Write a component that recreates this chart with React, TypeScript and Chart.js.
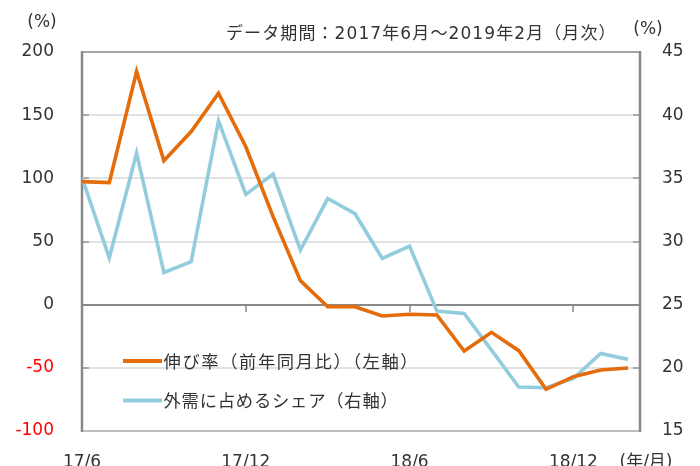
import React, { useEffect, useRef } from 'react';
import { Chart, registerables } from 'chart.js';

Chart.register(...registerables);

const categories = ['17/6', '17/7', '17/8', '17/9', '17/10', '17/11', '17/12', '18/1', '18/2', '18/3', '18/4', '18/5', '18/6', '18/7', '18/8', '18/9', '18/10', '18/11', '18/12', '19/1', '19/2'];
const growthRate = [97.4, 96.6, 184.5, 114, 137, 167.4, 125, 69.7, 19, -1.6, -1.6, -9, -7.6, -8.2, -36.7, -21.9, -36.4, -67, -57, -51.7, -50.1];
const foreignShare = [35.05, 28.7, 37, 27.55, 28.4, 39.54, 33.73, 35.34, 29.32, 33.4, 32.2, 28.66, 29.64, 24.5, 24.3, 21.4, 18.48, 18.42, 19.16, 21.14, 20.67];
const leftTicks = [200, 150, 100, 50, 0, -50, -100];
const rightTicks = [45, 40, 35, 30, 25, 20, 15];
const xTickLabels = ['17/6', '17/12', '18/6', '18/12'];

const growthLabel = '伸び率（前年同月比）（左軸）';
const shareLabel = '外需に占めるシェア（右軸）';
const titleText = 'データ期間：2017年6月～2019年2月（月次）';

const ORANGE = '#E46C0A';
const BLUE = '#93CDDD';
const TEXT = '#333333';
const NUM_FONT = '17px "DejaVu Sans", "Noto Sans CJK JP"';
const JP_FONT = '17.3px "Noto Sans CJK JP"';

const deco = {
  id: 'deco',
  beforeDatasetsDraw(chart: any) {
    const { ctx, chartArea: a, scales } = chart;
    const y = scales.y;
    const x = scales.x;
    ctx.save();
    // gridlines
    leftTicks.forEach((v) => {
      if (v === 200 || v === -100 || v === 0) return;
      const py = Math.round(y.getPixelForValue(v));
      ctx.strokeStyle = '#d9d9d9';
      ctx.lineWidth = 1.5;
      ctx.beginPath();
      ctx.moveTo(a.left, py);
      ctx.lineTo(a.right, py);
      ctx.stroke();
      ctx.strokeStyle = '#999999';
      ctx.beginPath();
      ctx.moveTo(a.left, py);
      ctx.lineTo(a.left + 7, py);
      ctx.moveTo(a.right - 7, py);
      ctx.lineTo(a.right, py);
      ctx.stroke();
    });
    // top & bottom borders
    ctx.lineWidth = 2;
    ctx.strokeStyle = '#a6a6a6';
    ctx.beginPath();
    ctx.moveTo(a.left, Math.round(a.top));
    ctx.lineTo(a.right, Math.round(a.top));
    ctx.stroke();
    ctx.strokeStyle = '#bfbfbf';
    ctx.beginPath();
    ctx.moveTo(a.left, Math.round(a.bottom));
    ctx.lineTo(a.right, Math.round(a.bottom));
    ctx.stroke();
    // zero line
    const zy = Math.round(y.getPixelForValue(0));
    ctx.strokeStyle = '#898989';
    ctx.lineWidth = 2;
    ctx.beginPath();
    ctx.moveTo(a.left, zy);
    ctx.lineTo(a.right, zy);
    ctx.stroke();
    ctx.lineWidth = 1.5;
    xTickLabels.forEach((lab) => {
      const i = categories.indexOf(lab);
      if (i <= 0) return;
      const px = Math.round(x.getPixelForValue(i));
      ctx.beginPath();
      ctx.moveTo(px, zy);
      ctx.lineTo(px, zy + 7);
      ctx.stroke();
    });
    // side axes
    ctx.strokeStyle = '#898989';
    ctx.lineWidth = 2.5;
    ctx.beginPath();
    ctx.moveTo(a.left, a.top - 1);
    ctx.lineTo(a.left, a.bottom + 1);
    ctx.moveTo(a.right, a.top - 1);
    ctx.lineTo(a.right, a.bottom + 1);
    ctx.stroke();

    // tick labels
    ctx.font = NUM_FONT;
    ctx.textBaseline = 'middle';
    ctx.textAlign = 'right';
    leftTicks.forEach((v) => {
      ctx.fillStyle = v < 0 ? '#FF0000' : TEXT;
      ctx.fillText(String(v), 54, y.getPixelForValue(v));
    });
    const y1 = scales.y1;
    ctx.textAlign = 'left';
    ctx.fillStyle = TEXT;
    rightTicks.forEach((v) => {
      ctx.fillText(String(v), 662, y1.getPixelForValue(v));
    });
    ctx.textAlign = 'center';
    ctx.textBaseline = 'alphabetic';
    xTickLabels.forEach((lab) => {
      const i = categories.indexOf(lab);
      ctx.fillText(lab, x.getPixelForValue(i), 467);
    });
    ctx.fillText('(年/月)', 646, 467);
    ctx.textBaseline = 'middle';
    ctx.fillText('(%)', 42, 23);
    ctx.fillText('(%)', 648, 30);
    ctx.textAlign = 'left';
    (ctx as any).letterSpacing = '1.1px';
    ctx.fillText(titleText, 226, 35);

    // legend
    ctx.lineWidth = 4;
    ctx.strokeStyle = ORANGE;
    ctx.beginPath();
    ctx.moveTo(123, 361);
    ctx.lineTo(162, 361);
    ctx.stroke();
    ctx.strokeStyle = BLUE;
    ctx.beginPath();
    ctx.moveTo(123, 400.5);
    ctx.lineTo(162, 400.5);
    ctx.stroke();
    ctx.font = JP_FONT;
    ctx.textAlign = 'left';
    ctx.fillStyle = TEXT;
    (ctx as any).letterSpacing = '1.6px';
    ctx.fillText(growthLabel, 163.5, 361);
    (ctx as any).letterSpacing = '0.8px';
    ctx.fillText(shareLabel, 163.5, 400.5);
    (ctx as any).letterSpacing = '0px';
    ctx.restore();
  },
};

export default function App() {
  const ref = useRef<HTMLCanvasElement | null>(null);
  useEffect(() => {
    document.body.style.margin = '0';
    const canvas = ref.current;
    if (!canvas) return;
    const xMax = 20.44;
    const chart = new Chart(canvas, {
      type: 'line',
      data: {
        datasets: [
          {
            label: growthLabel,
            data: growthRate.map((v, i) => ({ x: i, y: v })),
            borderColor: ORANGE,
            backgroundColor: ORANGE,
            borderWidth: 3.6,
            pointRadius: 0,
            tension: 0,
            yAxisID: 'y',
          },
          {
            label: shareLabel,
            data: foreignShare.map((v, i) => ({ x: i, y: v })),
            borderColor: BLUE,
            backgroundColor: BLUE,
            borderWidth: 3.6,
            pointRadius: 0,
            tension: 0,
            yAxisID: 'y1',
          },
        ],
      },
      options: {
        responsive: false,
        animation: false,
        devicePixelRatio: 1,
        layout: { padding: { left: 82, right: 60, top: 52, bottom: 35 } },
        plugins: { legend: { display: false }, tooltip: { enabled: false }, title: { display: false } },
        scales: {
          x: { type: 'linear', min: 0, max: xMax, display: false },
          y: { type: 'linear', min: -100, max: 200, display: false },
          y1: { type: 'linear', position: 'right', min: 15, max: 45, display: false },
        },
      },
      plugins: [deco],
    });
    return () => chart.destroy();
  }, []);
  return (
    <div style={{ width: 700, height: 466 }}>
      <canvas ref={ref} width={700} height={466} style={{ display: 'block' }} />
    </div>
  );
}
